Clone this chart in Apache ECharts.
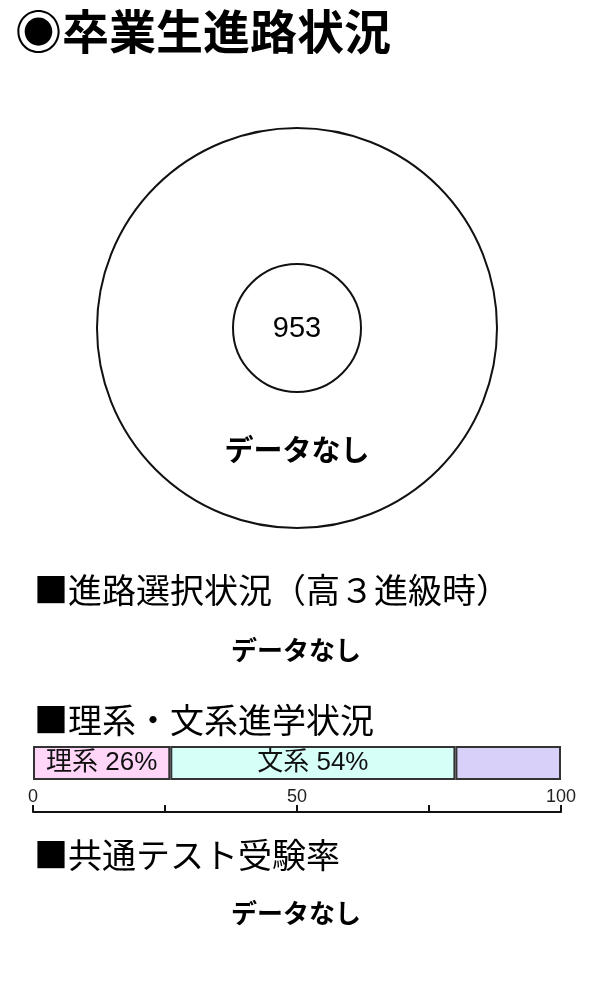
<!DOCTYPE html>
<html><head><meta charset="utf-8">
<script src="https://cdn.jsdelivr.net/npm/echarts@6/dist/echarts.min.js"></script>
<style>html,body{margin:0;padding:0;background:#fff}#c{width:600px;height:1000px}</style>
</head><body><div id="c"></div>
<script>
// ---- data ----
const chartTitle = '◉卒業生進路状況';
const totalGraduates = 953;
const destinationData = []; // 卒業生進路: データなし
const noDataText = 'データなし';
const sectionTitles = ['■進路選択状況（高３進級時）', '■理系・文系進学状況', '■共通テスト受験率'];
const courseCategories = ['理系', '文系', 'その他'];
const courseValues = [26, 54, 20];
const courseColors = ['#FFD6F8', '#D6FFF8', '#D8D0F8'];
const axisTicks = [0, 25, 50, 75, 100];
const axisTickLabels = ['0', '', '50', '', '100'];

const FONT = "'Liberation Sans', 'Noto Sans CJK JP', sans-serif";
const JFONT = "'Noto Sans CJK JP', sans-serif";
const chart = echarts.init(document.getElementById('c'), null, {renderer: 'canvas'});

const barSeries = courseCategories.map((name, i) => ({
  type: 'bar', name, stack: 'course', xAxisIndex: 0, yAxisIndex: 0,
  data: [courseValues[i]], barWidth: 34,
  itemStyle: {color: courseColors[i], borderColor: '#333', borderWidth: 2},
  label: {
    show: i < 2, position: 'inside', color: '#111', fontSize: 26, fontFamily: FONT,
    formatter: p => p.seriesName + ' ' + p.value + '%'
  },
  silent: true
}));

chart.setOption({
  animation: false,
  textStyle: {fontFamily: FONT},
  graphic: [
    {type: 'text', z: 100, left: 15, top: 8, style: {text: chartTitle, fill: '#000', font: 'bold 47px ' + JFONT}},
    {type: 'text', z: 100, x: 297, y: 329, style: {text: String(totalGraduates), fill: '#000', align: 'center', verticalAlign: 'middle', font: '29px ' + FONT}},
    {type: 'text', z: 100, x: 297, y: 450, style: {text: noDataText, fill: '#000', align: 'center', verticalAlign: 'middle', font: 'bold 29px ' + JFONT}},
    {type: 'text', z: 100, x: 34, y: 590, style: {text: sectionTitles[0], fill: '#000', verticalAlign: 'middle', font: '34px ' + JFONT}},
    {type: 'text', z: 100, x: 296, y: 650, style: {text: noDataText, fill: '#000', align: 'center', verticalAlign: 'middle', font: 'bold 26px ' + JFONT}},
    {type: 'text', z: 100, x: 34, y: 720, style: {text: sectionTitles[1], fill: '#000', verticalAlign: 'middle', font: '34px ' + JFONT}},
    {type: 'text', z: 100, x: 34, y: 855, style: {text: sectionTitles[2], fill: '#000', verticalAlign: 'middle', font: '34px ' + JFONT}},
    {type: 'text', z: 100, x: 296, y: 913, style: {text: noDataText, fill: '#000', align: 'center', verticalAlign: 'middle', font: 'bold 26px ' + JFONT}}
  ],
  grid: [
    {left: 33, right: 39, top: 746, height: 34},
    {left: 33, right: 39, top: 770, height: 42}
  ],
  xAxis: [
    {gridIndex: 0, type: 'value', min: 0, max: 100, show: false},
    {gridIndex: 1, type: 'value', min: axisTicks[0], max: axisTicks[axisTicks.length - 1], interval: 25,
     axisLine: {show: true, lineStyle: {color: '#111', width: 2}},
     axisTick: {show: true, inside: true, length: 7, lineStyle: {color: '#111', width: 2}},
     axisLabel: {show: true, inside: true, margin: 6, color: '#222', fontSize: 18, fontFamily: FONT,
       formatter: v => axisTickLabels[axisTicks.indexOf(v)] || ''},
     splitLine: {show: false}}
  ],
  yAxis: [
    {gridIndex: 0, type: 'category', data: ['理文'], show: false},
    {gridIndex: 1, type: 'value', min: 0, max: 1, show: false}
  ],
  series: [
    {
      type: 'pie', center: [297, 328], radius: [64, 200],
      data: destinationData, label: {show: false}, silent: true,
      showEmptyCircle: true,
      emptyCircleStyle: {color: '#fff', borderColor: '#111', borderWidth: 2}
    },
    ...barSeries
  ]
});
</script></body></html>
